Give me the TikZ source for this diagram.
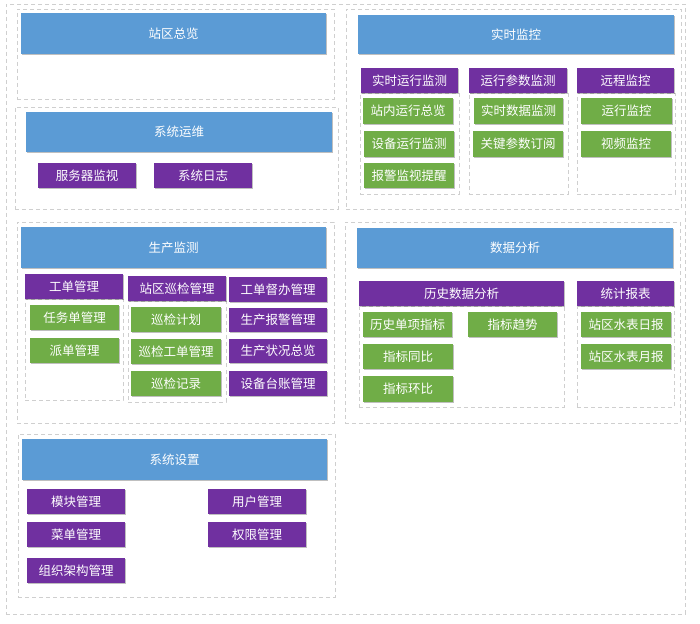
\documentclass[tikz,border=0pt]{standalone}
\usepackage{fontspec}
\setmainfont{Noto Sans CJK SC}
\usetikzlibrary{shadows}
\definecolor{barblue}{HTML}{5B9BD5}
\definecolor{barpurple}{HTML}{7030A0}
\definecolor{bargreen}{HTML}{70AD47}
\definecolor{dashgray}{HTML}{CFCFCF}
\tikzset{
  boxbase/.style={rectangle, inner sep=0pt, outer sep=0pt, text=white,
    font=\fontsize{12.5}{14}\selectfont,
    drop shadow={shadow xshift=1pt, shadow yshift=-1.2pt, opacity=0.25, fill=black}},
  bluebar/.style={boxbase, fill=barblue},
  purplebox/.style={boxbase, fill=barpurple},
  greenbox/.style={boxbase, fill=bargreen},
  frame/.style={rectangle, inner sep=0pt, outer sep=0pt, draw=dashgray, line width=0.9pt, dash pattern=on 4pt off 3pt},
}
% \bx{name}{style}{x1}{y1}{x2}{y2}{text}
\newcommand\bx[7]{\node[#2, minimum width={(#5-#3)*1pt}, minimum height={(#6-#4)*1pt}] (#1) at ({(#3+#5)/2},{-(#4+#6)/2}) {#7};}
\begin{document}
\begin{tikzpicture}[x=1pt,y=1pt]
\useasboundingbox (0,0) rectangle (700,-623);
% outer frame
\bx{outer}{frame}{6}{4}{685}{614}{}
% containers
\bx{cA}{frame}{17}{9}{334}{99}{}
\bx{cB}{frame}{15}{107}{338}{209}{}
\bx{cC}{frame}{346}{9}{681}{209}{}
\bx{cC1}{frame}{360}{93}{459}{194}{}
\bx{cC2}{frame}{469}{93}{568}{194}{}
\bx{cC3}{frame}{577}{93}{675}{194}{}
\bx{cD}{frame}{17}{222}{334}{423}{}
\bx{cD1}{frame}{25}{299}{123}{400}{}
\bx{cD2}{frame}{128}{301}{226}{402}{}
\bx{cE}{frame}{345}{222}{680}{423}{}
\bx{cE1}{frame}{359}{306}{564}{407}{}
\bx{cE2}{frame}{577}{306}{674}{407}{}
\bx{cF}{frame}{18}{434}{335}{597}{}
% A
\bx{zqzl}{bluebar}{21}{13}{326}{54}{站区总览}
% B
\bx{xtyw}{bluebar}{26}{112}{332}{152}{系统运维}
\bx{fwq}{purplebox}{38}{163}{136}{188}{服务器监视}
\bx{xtrz}{purplebox}{154}{163}{252}{188}{系统日志}
% C
\bx{ssjk}{bluebar}{358}{15}{674}{54}{实时监控}
\bx{ssyx}{purplebox}{361}{68}{458}{93}{实时运行监测}
\bx{znyx}{greenbox}{363}{98}{453}{124}{站内运行总览}
\bx{sbyx}{greenbox}{364}{131}{454}{157}{设备运行监测}
\bx{bjjs}{greenbox}{364}{163}{454}{188}{报警监视提醒}
\bx{yxcs}{purplebox}{469}{68}{567}{93}{运行参数监测}
\bx{sssj}{greenbox}{474}{98}{563}{124}{实时数据监测}
\bx{gjcs}{greenbox}{473}{131}{563}{157}{关键参数订阅}
\bx{ycjk}{purplebox}{577}{68}{674}{93}{远程监控}
\bx{yxjk}{greenbox}{581}{98}{672}{124}{运行监控}
\bx{spjk}{greenbox}{581}{131}{671}{157}{视频监控}
% D
\bx{scjc}{bluebar}{21}{227}{326}{268}{生产监测}
\bx{gdgl}{purplebox}{25}{274}{123}{299}{工单管理}
\bx{rwd}{greenbox}{30}{305}{119}{330}{任务单管理}
\bx{pd}{greenbox}{30}{338}{119}{363}{派单管理}
\bx{zqxj}{purplebox}{128}{276}{226}{301}{站区巡检管理}
\bx{xjjh}{greenbox}{131}{307}{221}{332}{巡检计划}
\bx{xjgd}{greenbox}{131}{339}{221}{364}{巡检工单管理}
\bx{xjjl}{greenbox}{131}{371}{221}{396}{巡检记录}
\bx{gddb}{purplebox}{229}{277}{327}{302}{工单督办管理}
\bx{scbj}{purplebox}{229}{308}{327}{332}{生产报警管理}
\bx{sczk}{purplebox}{229}{339}{327}{363}{生产状况总览}
\bx{sbtz}{purplebox}{229}{371}{327}{396}{设备台账管理}
% E
\bx{sjfx}{bluebar}{357}{228}{673}{268}{数据分析}
\bx{lssj}{purplebox}{359}{281}{564}{306}{历史数据分析}
\bx{lsdx}{greenbox}{363}{312}{452}{337}{历史单项指标}
\bx{zbqs}{greenbox}{468}{312}{557}{337}{指标趋势}
\bx{zbtb}{greenbox}{363}{344}{453}{369}{指标同比}
\bx{zbhb}{greenbox}{363}{376}{453}{402}{指标环比}
\bx{tjbb}{purplebox}{577}{281}{674}{306}{统计报表}
\bx{rb}{greenbox}{581}{312}{671}{337}{站区水表日报}
\bx{yb}{greenbox}{581}{344}{671}{369}{站区水表月报}
% F
\bx{xtsz}{bluebar}{22}{439}{327}{480}{系统设置}
\bx{mkgl}{purplebox}{27}{489}{125}{514}{模块管理}
\bx{cdgl}{purplebox}{27}{522}{125}{547}{菜单管理}
\bx{zzjg}{purplebox}{27}{558}{125}{583}{组织架构管理}
\bx{yhgl}{purplebox}{208}{489}{306}{514}{用户管理}
\bx{qxgl}{purplebox}{208}{522}{306}{547}{权限管理}
\end{tikzpicture}
\end{document}
